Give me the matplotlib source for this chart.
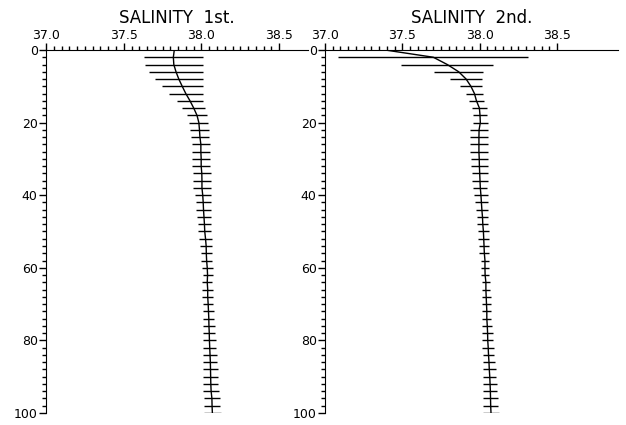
import numpy as np
import matplotlib
matplotlib.use("Agg")
import matplotlib.pyplot as plt
from matplotlib.ticker import FixedLocator, MultipleLocator

# depth levels (m) of the error bars; curve also starts at 0 m
depth = np.arange(2, 101, 2)

# panel 1: mean salinity and std at each depth
sal1_surface = 37.825
sal1_mean = [37.819, 37.822, 37.836, 37.854, 37.876, 37.899, 37.926, 37.950, 37.971, 37.983,
             37.987, 37.990, 37.996, 37.996, 37.998, 37.998, 38.002, 38.003, 38.003, 38.008,
             38.011, 38.013, 38.016, 38.019, 38.021, 38.026, 38.030, 38.031, 38.033, 38.037,
             38.039, 38.037, 38.040, 38.040, 38.043, 38.045, 38.047, 38.048, 38.050, 38.051,
             38.053, 38.055, 38.057, 38.058, 38.059, 38.060, 38.062, 38.067, 38.068, 38.070]
sal1_std = [0.189, 0.186, 0.172, 0.153, 0.132, 0.108, 0.086, 0.073, 0.062, 0.061,
            0.061, 0.058, 0.059, 0.059, 0.057, 0.057, 0.057, 0.056, 0.056, 0.051,
            0.048, 0.046, 0.047, 0.044, 0.042, 0.042, 0.038, 0.036, 0.034, 0.034,
            0.032, 0.032, 0.034, 0.034, 0.033, 0.033, 0.035, 0.037, 0.039, 0.040,
            0.042, 0.043, 0.045, 0.046, 0.047, 0.048, 0.050, 0.052, 0.053, 0.056]

# panel 2
sal2_surface = 37.388
sal2_mean = [37.700, 37.790, 37.864, 37.912, 37.943, 37.966, 37.979, 37.998, 38.002, 38.004,
             37.996, 37.995, 37.995, 37.995, 37.997, 37.998, 38.000, 38.002, 38.004, 38.008,
             38.011, 38.014, 38.018, 38.020, 38.024, 38.026, 38.028, 38.030, 38.034, 38.034,
             38.035, 38.040, 38.040, 38.042, 38.044, 38.046, 38.046, 38.049, 38.051, 38.052,
             38.055, 38.057, 38.060, 38.062, 38.065, 38.067, 38.069, 38.070, 38.071, 38.073]
sal2_std = [0.614, 0.298, 0.159, 0.101, 0.070, 0.057, 0.048, 0.048, 0.048, 0.048,
            0.056, 0.057, 0.057, 0.057, 0.055, 0.054, 0.052, 0.050, 0.045, 0.043,
            0.041, 0.038, 0.037, 0.036, 0.037, 0.035, 0.032, 0.032, 0.028, 0.028,
            0.027, 0.027, 0.027, 0.029, 0.027, 0.029, 0.029, 0.032, 0.035, 0.036,
            0.038, 0.036, 0.039, 0.041, 0.042, 0.043, 0.045, 0.047, 0.048, 0.050]

x_ticks = [37.0, 37.5, 38.0, 38.5]
x_ticklabels = ['37.0', '37.5', '38.0', '38.5']

fig = plt.figure(figsize=(6.26, 4.25), dpi=100)


def panel(rect, xmax, title, surface, mean, std):
    ax = fig.add_axes(rect)
    mean = np.array(mean)
    std = np.array(std)
    ax.hlines(depth, mean - std, mean + std, color='black', linewidth=1.0)
    ax.plot(np.concatenate([[surface], mean]), np.concatenate([[0], depth]),
            color='black', linewidth=1.0)
    ax.set_xlim(37.0, xmax)
    ax.set_ylim(100, 0)
    for side in ('right', 'bottom'):
        ax.spines[side].set_visible(False)
    ax.spines['left'].set_bounds(0, 100)
    ax.xaxis.tick_top()
    ax.xaxis.set_major_locator(FixedLocator(x_ticks))
    ax.xaxis.set_minor_locator(FixedLocator(np.arange(37.0, 38.501, 0.05)))
    ax.set_xticklabels(x_ticklabels)
    ax.yaxis.set_major_locator(MultipleLocator(20))
    ax.yaxis.set_minor_locator(MultipleLocator(2))
    ax.tick_params(which='major', direction='out', length=5, width=1,
                   labelsize=9, pad=1)
    ax.tick_params(which='minor', direction='out', length=3, width=1)
    ax.set_title(title, fontsize=12, pad=4)
    ax.patch.set_alpha(0)
    return ax


panel([0.0735, 0.0282, 0.4185, 0.8542], 38.685, 'SALINITY  1st.',
      sal1_surface, sal1_mean, sal1_std)
panel([0.5192, 0.0282, 0.468, 0.8542], 38.894, 'SALINITY  2nd.',
      sal2_surface, sal2_mean, sal2_std)

plt.savefig('out.png', dpi=100)
